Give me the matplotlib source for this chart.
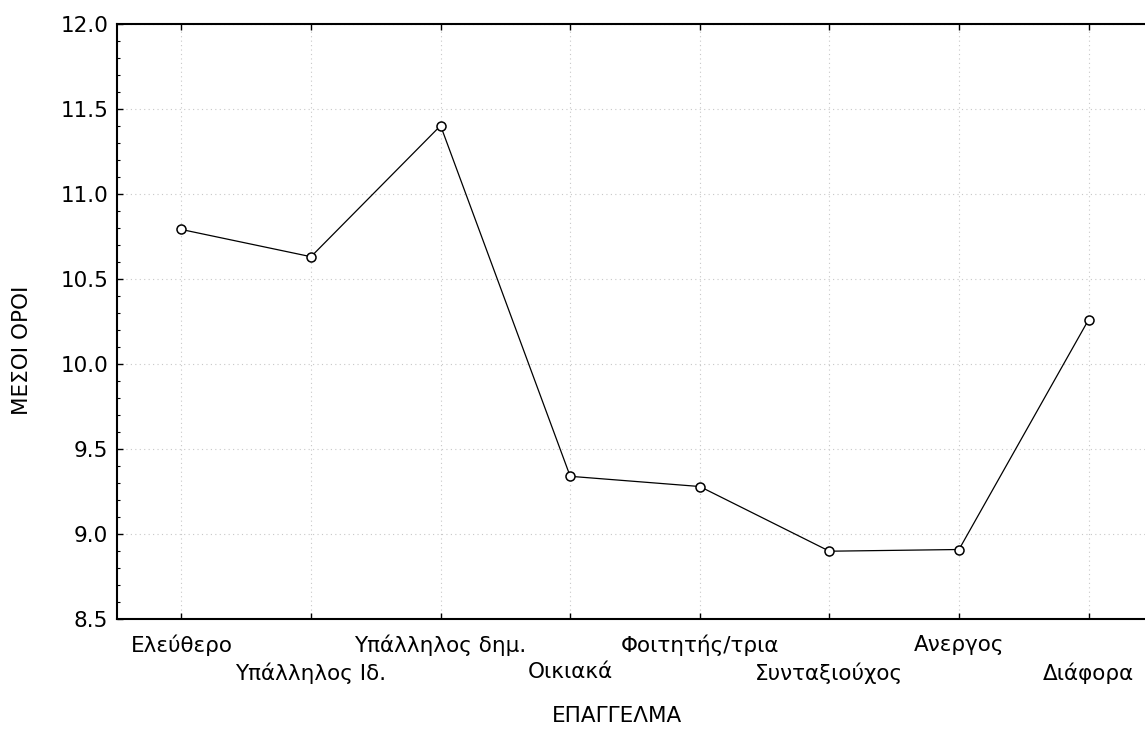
import matplotlib
matplotlib.use("Agg")
import matplotlib.pyplot as plt
from matplotlib.ticker import MultipleLocator

categories = ["Ελεύθερο", "Υπάλληλος Ιδ.", "Υπάλληλος δημ.", "Οικιακά",
              "Φοιτητής/τρια", "Συνταξιούχος", "Ανεργος", "Διάφορα"]
means = [10.79, 10.63, 11.40, 9.34, 9.28, 8.90, 8.91, 10.26]
yticks = [8.5, 9.0, 9.5, 10.0, 10.5, 11.0, 11.5, 12.0]

plt.rcParams['font.family'] = ['DejaVu Sans']

W, H = 1145, 729
fig = plt.figure(figsize=(W / 100, H / 100), dpi=100)
left = 116.6 / W
bottom = (H - 619.3) / H
width = 1036.8 / W
height = (619.3 - 23.5) / H
ax = fig.add_axes([left, bottom, width, height])

x = list(range(len(categories)))
ax.plot(x, means, color='black', lw=0.9, marker='o', markersize=6.5,
        markerfacecolor='white', markeredgecolor='black', markeredgewidth=1.1,
        zorder=3)

FS = 15.5
ax.set_xlim(-0.5, len(categories) - 0.5)
ax.set_ylim(8.5, 12.0)
ax.set_yticks(yticks)
ax.set_yticklabels([f"{v:.1f}" for v in yticks])
ax.yaxis.set_minor_locator(MultipleLocator(0.1))

even = x[0::2]
odd = x[1::2]
ax.set_xticks(even)
ax.set_xticklabels(categories[0::2], fontsize=FS)
ax.set_xticks(odd, minor=True)
ax.set_xticklabels(categories[1::2], minor=True, fontsize=FS)
ax.tick_params(axis='y', labelsize=FS)

ax.tick_params(which='major', direction='in', length=4, width=1, top=True, right=True, pad=6)
ax.tick_params(axis='y', which='minor', direction='in', length=2, width=0.8, left=True, right=True)
ax.tick_params(axis='x', which='major', pad=11)
ax.tick_params(axis='x', which='minor', direction='in', length=4, width=1, top=True, pad=31)

ax.grid(True, which='major', linestyle=(0, (1, 3)), color='#c8c8c8', lw=0.8)
ax.grid(True, which='minor', axis='x', linestyle=(0, (1, 3)), color='#c8c8c8', lw=0.8)
for s in ax.spines.values():
    s.set_linewidth(1.5)
    s.set_color('black')

fig.text(617 / W, 1 - 716 / H, "ΕΠΑΓΓΕΛΜΑ", ha='center', va='center', fontsize=FS)
fig.text(22 / W, 1 - 350 / H, "ΜΕΣΟΙ ΟΡΟΙ", ha='center', va='center',
         rotation=90, fontsize=FS)

fig.savefig("out.png", dpi=100)
